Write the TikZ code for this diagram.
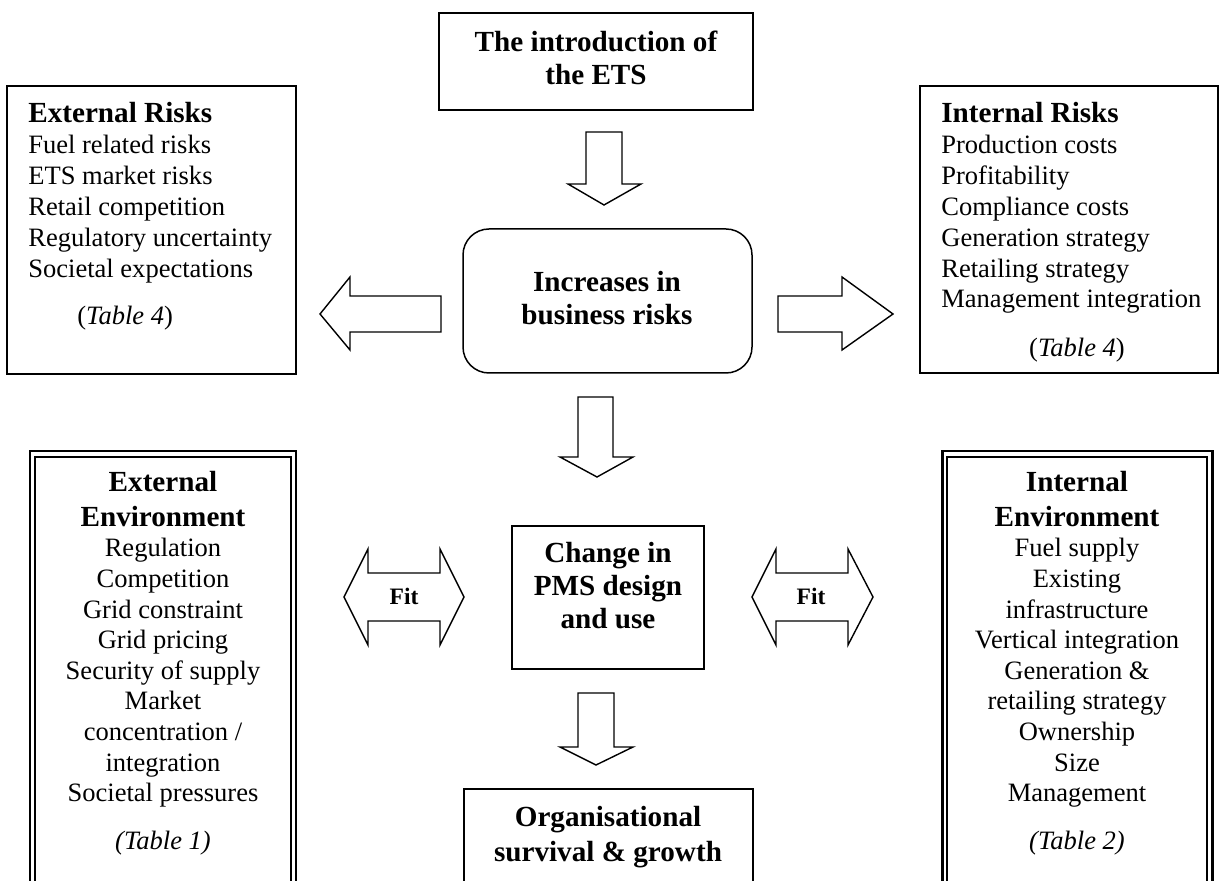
\documentclass[tikz,border=0pt]{standalone}
\usepackage{fontspec}
\setmainfont{Liberation Serif}
\usetikzlibrary{fit}
\begin{document}
\begin{tikzpicture}[x=0.02cm,y=-0.02cm,
  body/.style={font=\fontsize{15.1pt}{17pt}\selectfont, inner sep=0pt},
  ttl/.style={font=\fontsize{16.6pt}{19pt}\selectfont\bfseries, inner sep=0pt},
  fittxt/.style={font=\fontsize{13.4pt}{15pt}\selectfont\bfseries, inner sep=0pt},
  box/.style={draw, line width=0.85pt, inner sep=0pt},
  blockarrow/.style={draw, line width=0.8pt, line join=miter, fill=white},
  outerline/.style={draw, line width=1.7pt, inner sep=0pt},
  innerline/.style={draw, line width=0.85pt, inner sep=0pt}]
\useasboundingbox (0,0) rectangle (1225,881);
\clip (0,0) rectangle (1225,881);

% ---------- boxes ----------
\node[box, fit={(439,13) (753,110)}] (intro) {};
\node[box, rounded corners=0.52cm, fit={(463,229) (752,373)}] (incr) {};
\node[box, fit={(7,86) (296,374)}] (extrisk) {};
\node[box, fit={(920,86) (1218,373)}] (intrisk) {};
\node[box, fit={(512,526) (704,669)}] (pms) {};
\node[box, fit={(464,789) (753,920)}] (org) {};
\node[outerline, fit={(30,451) (296,920)}] (extenv) {};
\node[innerline, fit={(35,457) (291,920)}] (extenvin) {};
\node[outerline, fit={(942,451) (1212,920)}] (intenv) {};
\node[innerline, fit={(947,457) (1207,920)}] (intenvin) {};

% ---------- central texts ----------
\node[ttl, anchor=base] (introA) at (596,52) {The introduction of};
\node[ttl, anchor=base] (introB) at (596,85) {the ETS};
\node[ttl, anchor=base] (incrA) at (607,292) {Increases in};
\node[ttl, anchor=base] (incrB) at (607,325) {business risks};
\node[ttl, anchor=base] (pmsA) at (608,563) {Change in};
\node[ttl, anchor=base] (pmsB) at (608,596) {PMS design};
\node[ttl, anchor=base] (pmsC) at (608,629) {and use};
\node[ttl, anchor=base] (orgA) at (608,827) {Organisational};
\node[ttl, anchor=base] (orgB) at (608,862) {survival \& growth};

% ---------- external risks ----------
\node[ttl, anchor=base west] (erT) at (28,123) {External Risks};
\foreach \t [count=\i from 0] in {Fuel related risks,ETS market risks,Retail competition,Regulatory uncertainty,Societal expectations}
  \node[body, anchor=base west] (er\i) at (28,{154+30.8*\i}) {\t};
\node[body, anchor=base west] (erTab) at (77,325) {(\textit{Table 4})};

% ---------- internal risks ----------
\node[ttl, anchor=base west] (irT) at (941,123) {Internal Risks};
\foreach \t [count=\i from 0] in {Production costs,Profitability,Compliance costs,Generation strategy,Retailing strategy,Management integration}
  \node[body, anchor=base west] (ir\i) at (941,{154+30.8*\i}) {\t};
\node[body, anchor=base] (irTab) at (1077,357) {(\textit{Table 4})};

% ---------- external environment ----------
\node[ttl, anchor=base] (eeA) at (163,492) {External};
\node[ttl, anchor=base] (eeB) at (163,527) {Environment};
\foreach \t [count=\i from 0] in {Regulation,Competition,Grid constraint,Grid pricing,Security of supply,Market,concentration /,integration,Societal pressures}
  \node[body, anchor=base] (ee\i) at (163,{557+30.6*\i}) {\t};
\node[body, anchor=base] (eeTab) at (163,850) {\textit{(Table 1)}};

% ---------- internal environment ----------
\node[ttl, anchor=base] (ieA) at (1077,492) {Internal};
\node[ttl, anchor=base] (ieB) at (1077,527) {Environment};
\foreach \t [count=\i from 0] in {Fuel supply,Existing,infrastructure,Vertical integration,Generation \&,retailing strategy,Ownership,Size,Management}
  \node[body, anchor=base] (ie\i) at (1077,{557+30.6*\i}) {\t};
\node[body, anchor=base] (ieTab) at (1077,850) {\textit{(Table 2)}};

% ---------- block arrows ----------
% down arrows
\draw[blockarrow] (586,132) -- (622,132) -- (622,184) -- (641,184) -- (604,205) -- (568,184) -- (586,184) -- cycle;
\draw[blockarrow] (578,397) -- (613,397) -- (613,457) -- (633,457) -- (597,477) -- (560,457) -- (578,457) -- cycle;
\draw[blockarrow] (578,693) -- (614,693) -- (614,747) -- (633,747) -- (596,765) -- (560,747) -- (578,747) -- cycle;
% left / right arrows
\draw[blockarrow] (441,296) -- (350,296) -- (350,277) -- (320,314) -- (350,350) -- (350,332) -- (441,332) -- cycle;
\draw[blockarrow] (778,296) -- (842,296) -- (842,277) -- (893,314) -- (842,350) -- (842,332) -- (778,332) -- cycle;
% fit double arrows
\draw[blockarrow] (344,597) -- (368,549) -- (368,573) -- (440,573) -- (440,549) -- (464,597) -- (440,645) -- (440,621) -- (368,621) -- (368,645) -- cycle;
\draw[blockarrow] (752,597) -- (776,549) -- (776,573) -- (848,573) -- (848,549) -- (873,597) -- (848,645) -- (848,621) -- (776,621) -- (776,645) -- cycle;
\node[fittxt, anchor=base] (fitL) at (404,605) {Fit};
\node[fittxt, anchor=base] (fitR) at (811,605) {Fit};
\end{tikzpicture}
\end{document}
